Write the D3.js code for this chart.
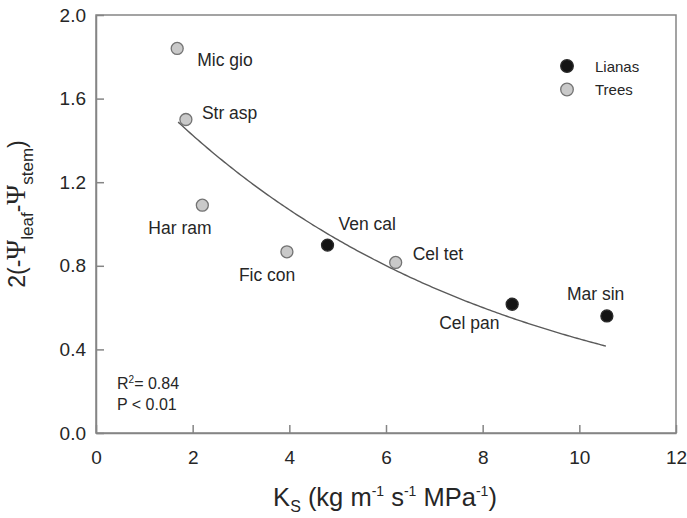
<!DOCTYPE html>
<html>
<head>
<meta charset="utf-8">
<script src="https://cdn.jsdelivr.net/npm/d3@7"></script>
<style>
body { margin: 0; background: #fff; }
text { font-family: "Liberation Sans", Arial, sans-serif; fill: #262626; }
</style>
</head>
<body>
<div id="chart"></div>
<script>
// species means
var species = ["Mic gio", "Str asp", "Har ram", "Fic con", "Ven cal", "Cel tet", "Cel pan", "Mar sin"];
var growthForm = ["Trees", "Trees", "Trees", "Trees", "Lianas", "Trees", "Lianas", "Lianas"];
var ksValues = [1.68, 1.86, 2.20, 3.95, 4.79, 6.20, 8.61, 10.57];
var psiValues = [1.84, 1.50, 1.09, 0.867, 0.899, 0.816, 0.616, 0.560];

// exponential fit y = a * exp(b * x), drawn over the range of the data
var fitA = 1.90;
var fitB = -0.144;
var fitRange = [1.70, 10.57];

var xTicks = [0, 2, 4, 6, 8, 10, 12];
var yTicks = [0.0, 0.4, 0.8, 1.2, 1.6, 2.0];
var legendItems = ["Lianas", "Trees"];
var statLines = ["R2= 0.84", "P < 0.01"];

// label placement, relative to the point (pixels)
var labelOffset = {
    "Mic gio": [20, 18], "Str asp": [16, -1], "Har ram": [-54, 29], "Fic con": [-48, 29],
    "Ven cal": [11, -15], "Cel tet": [17, -2], "Cel pan": [-73, 25], "Mar sin": [-40, -16]
};

var width = 687, height = 518;
var margin = {left: 96, right: 11, top: 15, bottom: 85};
var fillFor = {Lianas: "#141414", Trees: "#c9c9c9"};
var strokeFor = {Lianas: "#2a2a2a", Trees: "#737373"};

var svg = d3.select("#chart").append("svg")
    .attr("width", width)
    .attr("height", height);

var x = d3.scaleLinear().domain([0, 12]).range([margin.left, width - margin.right]);
var y = d3.scaleLinear().domain([0, 2]).range([height - margin.bottom, margin.top]);

// frame
var axisColor = "#858585";
svg.append("rect")
    .attr("x", x(0)).attr("y", y(2))
    .attr("width", x(12) - x(0)).attr("height", y(0) - y(2))
    .attr("fill", "none").attr("stroke", axisColor).attr("stroke-width", 1.5);

// axes with inward ticks
var xAxis = svg.append("g")
    .attr("transform", "translate(0," + y(0) + ")")
    .call(d3.axisBottom(x).tickValues(xTicks).tickSizeInner(-8).tickSizeOuter(0).tickPadding(18).tickFormat(d3.format("d")));
var yAxis = svg.append("g")
    .attr("transform", "translate(" + x(0) + ",0)")
    .call(d3.axisLeft(y).tickValues(yTicks).tickSizeInner(-8).tickSizeOuter(0).tickPadding(10).tickFormat(d3.format(".1f")));
[xAxis, yAxis].forEach(function (g) {
    g.select(".domain").attr("stroke", axisColor).attr("stroke-width", 1.5);
    g.selectAll(".tick line").attr("stroke", axisColor).attr("stroke-width", 1.5);
    g.selectAll(".tick text").attr("fill", "#262626").style("font-size", "19px")
        .style("font-family", "'Liberation Sans', Arial, sans-serif");
});

// fitted curve
var fitPts = d3.range(fitRange[0], fitRange[1] + 0.001, 0.05).map(function (k) {
    return [k, fitA * Math.exp(fitB * k)];
});
svg.append("path")
    .datum(fitPts)
    .attr("fill", "none")
    .attr("stroke", "#5a5a5a")
    .attr("stroke-width", 1.4)
    .attr("d", d3.line().x(d => x(d[0])).y(d => y(d[1])));

// points
var points = species.map(function (s, i) {
    return {name: s, form: growthForm[i], ks: ksValues[i], psi: psiValues[i]};
});
svg.append("g").selectAll("circle")
    .data(points)
    .enter()
    .append("circle")
    .attr("cx", d => x(d.ks))
    .attr("cy", d => y(d.psi))
    .attr("r", 6)
    .attr("fill", d => fillFor[d.form])
    .attr("stroke", d => strokeFor[d.form])
    .attr("stroke-width", 1.3);

svg.append("g").selectAll("text")
    .data(points)
    .enter()
    .append("text")
    .attr("x", d => x(d.ks) + labelOffset[d.name][0])
    .attr("y", d => y(d.psi) + labelOffset[d.name][1])
    .style("font-size", "17.5px")
    .text(d => d.name);

// legend
var legend = svg.append("g").attr("transform", "translate(567,66)");
legendItems.forEach(function (item, i) {
    legend.append("circle")
        .attr("cx", 0).attr("cy", i * 23.5)
        .attr("r", 6.3)
        .attr("fill", fillFor[item]).attr("stroke", strokeFor[item]).attr("stroke-width", 1.3);
    legend.append("text")
        .attr("x", 28).attr("y", i * 23.5 + 5.5)
        .style("font-size", "15px")
        .text(item);
});

// statistics
var stats = svg.append("g").attr("transform", "translate(117,389)").style("font-size", "16px");
var r2 = stats.append("text").attr("x", 0).attr("y", 0);
r2.append("tspan").text("R");
r2.append("tspan").attr("dy", -6).style("font-size", "10px").text("2");
r2.append("tspan").attr("dy", 6).text("= 0.84");
stats.append("text").attr("x", 0).attr("y", 21).text(statLines[1]);

// x axis title
var xt = svg.append("text")
    .attr("x", (x(0) + x(12)) / 2 - 1)
    .attr("y", 506)
    .attr("text-anchor", "middle")
    .style("font-size", "25.5px");
xt.append("tspan").text("K");
xt.append("tspan").attr("dy", 6).style("font-size", "16px").text("S");
xt.append("tspan").attr("dy", -6).text(" (kg m");
xt.append("tspan").attr("dy", -10).style("font-size", "14px").text("-1");
xt.append("tspan").attr("dy", 10).text(" s");
xt.append("tspan").attr("dy", -10).style("font-size", "14px").text("-1");
xt.append("tspan").attr("dy", 10).text(" MPa");
xt.append("tspan").attr("dy", -10).style("font-size", "14px").text("-1");
xt.append("tspan").attr("dy", 10).text(")");

// y axis title
var yt = svg.append("text")
    .attr("transform", "translate(25,214) rotate(-90)")
    .attr("text-anchor", "middle")
    .style("font-size", "23px");
yt.append("tspan").text("2(-");
yt.append("tspan").style("font-family", "'Liberation Serif', serif").style("font-size", "27px").text("\u03A8");
yt.append("tspan").attr("dy", 8).style("font-size", "17px").text("leaf");
yt.append("tspan").attr("dy", -8).text("-");
yt.append("tspan").style("font-family", "'Liberation Serif', serif").style("font-size", "27px").text("\u03A8");
yt.append("tspan").attr("dy", 8).style("font-size", "17px").text("stem");
yt.append("tspan").attr("dy", -8).text(")");
</script>
</body>
</html>
